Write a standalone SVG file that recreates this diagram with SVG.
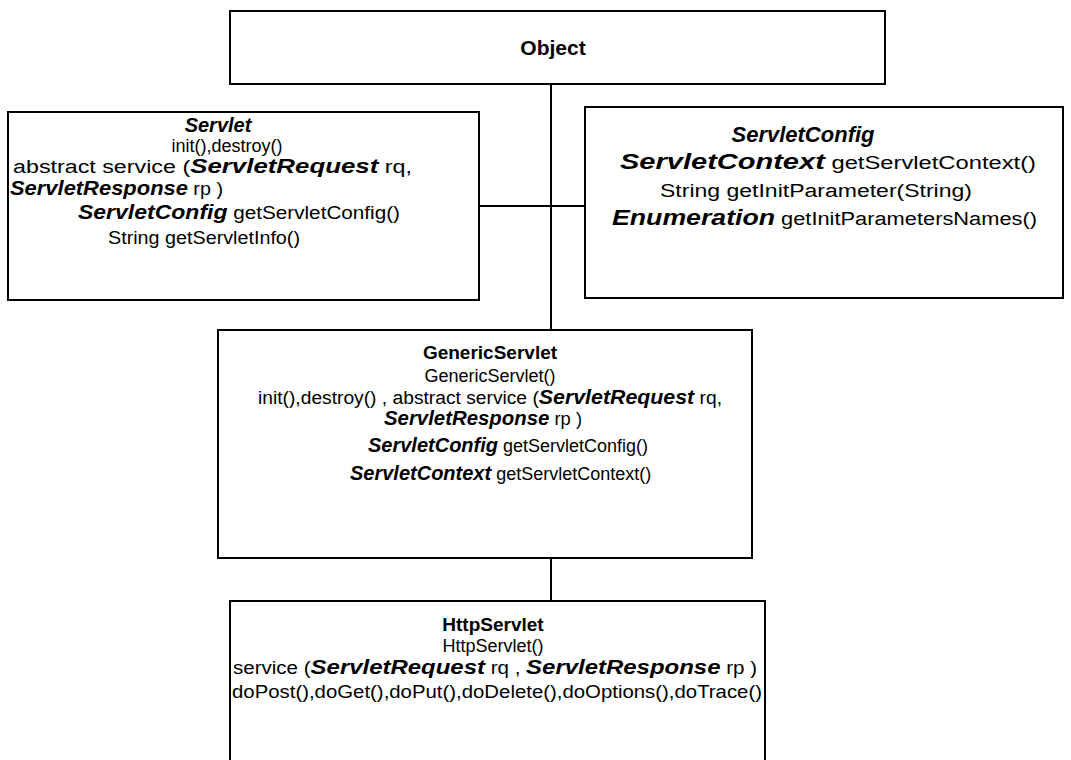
<svg xmlns="http://www.w3.org/2000/svg" width="1071" height="760" viewBox="0 0 1071 760">
<style>
.box{fill:#fff;stroke:#000;stroke-width:2}
.ln{stroke:#000;stroke-width:2;fill:none}
text{font-family:"Liberation Sans",Arial,sans-serif;font-size:18px;fill:#000}
.t{font-weight:bold;font-size:19px}
.o{font-weight:bold;font-size:21px}
.bi{font-weight:bold;font-style:italic;font-size:20px}
.c{text-anchor:middle}
.big{font-size:21px}
.big .bi{font-size:22px}
.http{font-size:19px}
.http .bi{font-size:21px}
</style>
<rect width="1071" height="760" fill="#fff"/>
<g id="connectors">
<line class="ln" x1="551" y1="84" x2="551" y2="330"/>
<line class="ln" x1="479" y1="206" x2="585" y2="206"/>
<line class="ln" x1="551" y1="558" x2="551" y2="601"/>
</g>
<g id="object">
<rect class="box" x="230" y="11" width="655" height="73"/>
<text class="o c" x="553" y="55">Object</text>
</g>
<g id="servlet">
<rect class="box" x="8" y="112" width="471" height="188"/>
<text class="bi c" x="218" y="132">Servlet</text>
<text class="c" x="227" y="152">init(),destroy()</text>
<text x="13" y="173" textLength="399" lengthAdjust="spacingAndGlyphs">abstract service (<tspan class="bi">ServletRequest</tspan>  rq,</text>
<text x="10" y="195" textLength="213" lengthAdjust="spacingAndGlyphs"><tspan class="bi">ServletResponse</tspan>  rp )</text>
<text x="78" y="219" textLength="322" lengthAdjust="spacingAndGlyphs"><tspan class="bi">ServletConfig</tspan>  getServletConfig()</text>
<text x="108" y="244" textLength="192" lengthAdjust="spacingAndGlyphs">String getServletInfo()</text>
</g>
<g id="servletconfig" class="big">
<rect class="box" x="585" y="107" width="478" height="191"/>
<text class="bi c" x="803" y="142">ServletConfig</text>
<text x="620" y="169" textLength="416" lengthAdjust="spacingAndGlyphs"><tspan class="bi">ServletContext</tspan>  getServletContext()</text>
<text x="660" y="197" textLength="312" lengthAdjust="spacingAndGlyphs">String getInitParameter(String)</text>
<text x="612" y="225" textLength="425" lengthAdjust="spacingAndGlyphs"><tspan class="bi">Enumeration</tspan>  getInitParametersNames()</text>
</g>
<g id="genericservlet">
<rect class="box" x="218" y="330" width="534" height="228"/>
<text class="t c" x="490" y="359">GenericServlet</text>
<text class="c" x="490" y="382">GenericServlet()</text>
<text x="258" y="404" textLength="464" lengthAdjust="spacingAndGlyphs">init(),destroy() , abstract service (<tspan class="bi">ServletRequest</tspan>  rq,</text>
<text x="384" y="425" textLength="198" lengthAdjust="spacingAndGlyphs"><tspan class="bi">ServletResponse</tspan>  rp )</text>
<text x="368" y="452"><tspan class="bi">ServletConfig</tspan>  getServletConfig()</text>
<text x="350" y="480"><tspan class="bi">ServletContext</tspan>  getServletContext()</text>
</g>
<g id="httpservlet" class="http">
<rect class="box" x="230" y="601" width="535" height="175"/>
<text class="t c" x="493" y="631">HttpServlet</text>
<text class="c" x="493" y="652">HttpServlet()</text>
<text x="233" y="674" textLength="524" lengthAdjust="spacingAndGlyphs">service (<tspan class="bi">ServletRequest</tspan>  rq ,  <tspan class="bi">ServletResponse</tspan>  rp )</text>
<text x="232" y="698" textLength="530" lengthAdjust="spacingAndGlyphs">doPost(),doGet(),doPut(),doDelete(),doOptions(),doTrace()</text>
</g>
</svg>
